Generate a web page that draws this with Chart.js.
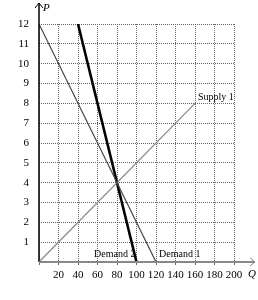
<!DOCTYPE html>
<html>
<head>
<meta charset="UTF-8">
<script src="https://cdn.jsdelivr.net/npm/chart.js@4.4.0/dist/chart.umd.min.js"></script>
<style>
  html, body { margin: 0; padding: 0; background: #fff; }
  #wrap { width: 258px; height: 300px; }
</style>
</head>
<body>
<div id="wrap"><canvas id="c" width="258" height="300"></canvas></div>
<script>
const qDemand1 = [0, 120];
const pDemand1 = [12, 0];
const qDemand2 = [40, 100];
const pDemand2 = [12, 0];
const qSupply1 = [0, 160];
const pSupply1 = [0, 8];
const xTicks = [20, 40, 60, 80, 100, 120, 140, 160, 180, 200];
const yTicks = [1, 2, 3, 4, 5, 6, 7, 8, 9, 10, 11, 12];

const pts = (xs, ys) => xs.map((x, i) => ({ x: x, y: ys[i] }));
const serif = "'Liberation Serif', 'DejaVu Serif', serif";

// arrows, axis letters and curve names
const extras = {
  id: 'extras',
  afterDraw(chart) {
    const ctx = chart.ctx;
    const xs = chart.scales.x, ys = chart.scales.y;
    const x0 = xs.getPixelForValue(0), y0 = ys.getPixelForValue(0);
    ctx.save();
    ctx.setLineDash([]);
    // y axis line + arrow
    ctx.strokeStyle = '#000';
    ctx.lineWidth = 1.5;
    ctx.beginPath();
    ctx.moveTo(x0, y0);
    ctx.lineTo(x0, 3);
    ctx.stroke();
    ctx.lineWidth = 1;
    ctx.beginPath();
    ctx.moveTo(x0 - 4, 8);
    ctx.lineTo(x0, 3);
    ctx.lineTo(x0 + 4, 8);
    ctx.stroke();
    // x axis line + arrow
    ctx.strokeStyle = '#888';
    ctx.lineWidth = 2;
    ctx.beginPath();
    ctx.moveTo(x0, y0);
    ctx.lineTo(255, y0);
    ctx.stroke();
    ctx.lineWidth = 1;
    ctx.beginPath();
    ctx.moveTo(250, y0 - 4);
    ctx.lineTo(255, y0);
    ctx.lineTo(250, y0 + 4);
    ctx.stroke();

    ctx.fillStyle = '#000';
    ctx.font = "italic 11px " + serif;
    ctx.textBaseline = 'middle';
    ctx.textAlign = 'left';
    ctx.fillText('P', x0 + 4, 8);
    ctx.fillText('Q', 248, y0 + 12);

    ctx.font = "10px " + serif;
    ctx.textBaseline = 'bottom';
    ctx.fillText('Supply 1', xs.getPixelForValue(qSupply1[1]) + 3, ys.getPixelForValue(pSupply1[1]) - 1);
    ctx.textBaseline = 'middle';
    ctx.fillText('Demand 1', xs.getPixelForValue(qDemand1[1]) + 3, y0 - 8);
    ctx.textAlign = 'right';
    ctx.fillText('Demand 2', xs.getPixelForValue(qDemand2[1]) - 1, y0 - 8);
    ctx.restore();
  }
};

new Chart(document.getElementById('c'), {
  type: 'scatter',
  data: {
    datasets: [
      { label: 'Demand 1', data: pts(qDemand1, pDemand1), showLine: true, borderColor: '#444', borderWidth: 1.2, pointRadius: 0 },
      { label: 'Supply 1', data: pts(qSupply1, pSupply1), showLine: true, borderColor: '#8a8a8a', borderWidth: 1.3, pointRadius: 0 },
      { label: 'Demand 2', data: pts(qDemand2, pDemand2), showLine: true, borderColor: '#000', borderWidth: 2.6, pointRadius: 0 }
    ]
  },
  options: {
    responsive: false,
    animation: false,
    layout: { padding: { top: 24, right: 24, left: 0, bottom: 0 } },
    plugins: { legend: { display: false }, tooltip: { enabled: false } },
    scales: {
      x: {
        type: 'linear', min: 0, max: 200,
        afterBuildTicks: s => { s.ticks = [0].concat(xTicks).map(v => ({ value: v })); },
        afterFit: s => { s.height = 38; },
        border: { display: false, dash: [1, 1] },
        grid: { color: '#666', lineWidth: 1, tickLength: 3, drawTicks: true },
        ticks: { color: '#000', font: { family: serif, size: 11 }, padding: 4, maxRotation: 0,
                 callback: v => v === 0 ? '' : v }
      },
      y: {
        type: 'linear', min: 0, max: 12,
        afterBuildTicks: s => { s.ticks = [0].concat(yTicks).map(v => ({ value: v })); },
        afterFit: s => { s.width = 39; },
        border: { display: false, dash: [1, 1] },
        grid: { color: '#666', lineWidth: 1, drawTicks: false },
        ticks: { color: '#000', font: { family: serif, size: 11 }, padding: 10,
                 callback: v => v === 0 ? '' : v }
      }
    }
  },
  plugins: [extras]
});
</script>
</body>
</html>
